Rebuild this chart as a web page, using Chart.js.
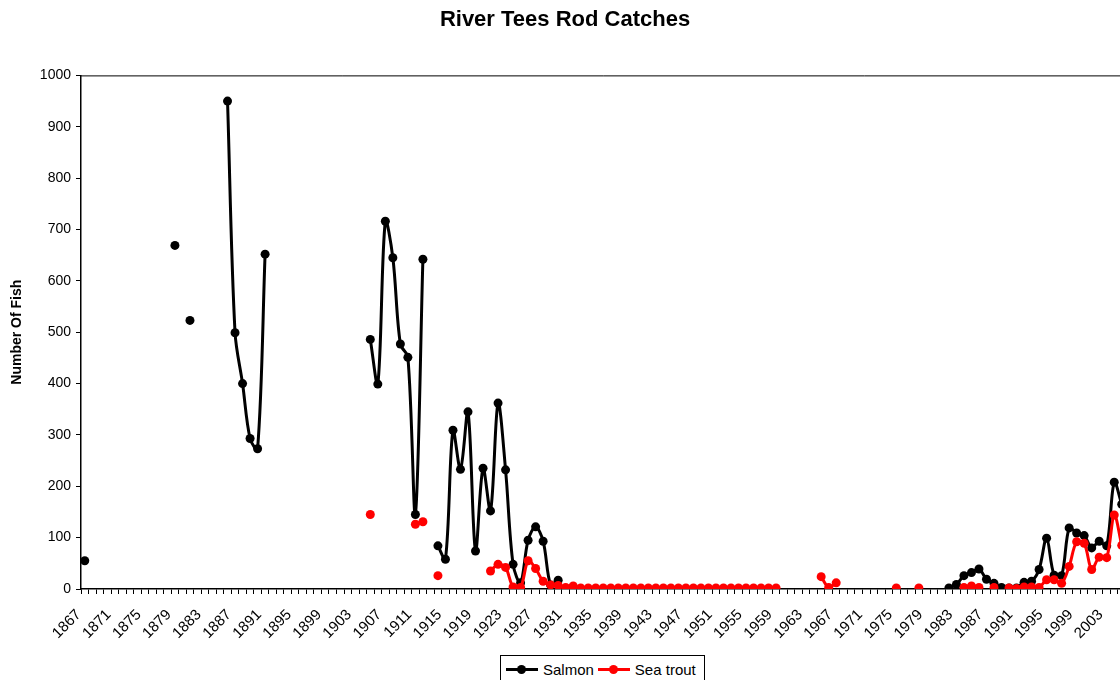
<!DOCTYPE html>
<html>
<head>
<meta charset="utf-8">
<script src="https://cdn.jsdelivr.net/npm/chart.js@4/dist/chart.umd.min.js"></script>
<style>
  html, body { margin: 0; padding: 0; background: #fff; overflow: hidden; }
  #wrap { position: relative; width: 1130px; height: 680px; }
  #legend {
    position: absolute; left: 500px; top: 655px; width: 205px; height: 30px;
    border: 1px solid #000; background: #fff; box-sizing: border-box;
    font: 15px "Liberation Sans", Arial, sans-serif; color: #000; white-space: nowrap;
    display: flex; align-items: flex-start; padding: 3px 0 0 5px;
  }
  #legend .item { display: inline-flex; align-items: center; margin-right: 4px; height: 20px; white-space: nowrap; }
  #legend .sw { position: relative; display: inline-block; width: 32px; height: 3px; margin-right: 5px; }
  #legend .dot { position: absolute; left: 11px; top: -3px; width: 9px; height: 9px; border-radius: 50%; }
</style>
</head>
<body>
<div id="wrap">
  <canvas id="c" width="1130" height="680"></canvas>
  <div id="legend"></div>
</div>
<script>
const years = [
  1867,1868,1869,1870,1871,1872,1873,1874,1875,1876,1877,1878,1879,1880,1881,1882,1883,1884,1885,1886,
  1887,1888,1889,1890,1891,1892,1893,1894,1895,1896,1897,1898,1899,1900,1901,1902,1903,1904,1905,1906,
  1907,1908,1909,1910,1911,1912,1913,1914,1915,1916,1917,1918,1919,1920,1921,1922,1923,1924,1925,1926,
  1927,1928,1929,1930,1931,1932,1933,1934,1935,1936,1937,1938,1939,1940,1941,1942,1943,1944,1945,1946,
  1947,1948,1949,1950,1951,1952,1953,1954,1955,1956,1957,1958,1959,1960,1961,1962,1963,1964,1965,1966,
  1967,1968,1969,1970,1971,1972,1973,1974,1975,1976,1977,1978,1979,1980,1981,1982,1983,1984,1985,1986,
  1987,1988,1989,1990,1991,1992,1993,1994,1995,1996,1997,1998,1999,2000,2001,2002,2003,2004,2005
];

const salmonYears = [
  1867,1879,1881,1886,1887,1888,1889,1890,1891,
  1905,1906,1907,1908,1909,1910,1911,1912,
  1914,1915,1916,1917,1918,1919,1920,1921,1922,1923,1924,1925,1926,1927,1928,1929,1930,
  1982,1983,1984,1985,1986,1987,1988,1989,1990,1991,1992,1993,1994,1995,1996,1997,1998,1999,2000,2001,2002,2003,2004,2005
];
const salmonValues = [
  55,669,523,950,499,400,293,273,652,
  486,399,716,645,477,451,145,642,
  84,58,309,233,345,74,235,152,362,232,48,12,95,121,93,8,17,
  2,9,26,32,39,19,11,3,2,2,13,15,38,99,27,26,119,109,104,80,93,84,208,165
];

const troutYears = [
  1905,1911,1912,1914,
  1921,1922,1923,1924,1925,1926,1927,1928,1929,1930,1931,1932,1933,1934,1935,1936,1937,1938,1939,1940,
  1941,1942,1943,1944,1945,1946,1947,1948,1949,1950,1951,1952,1953,1954,1955,1956,1957,1958,1959,
  1965,1966,1967,1975,1978,
  1984,1985,1986,1988,
  1990,1991,1992,1993,1994,1995,1996,1997,1998,1999,2000,2001,2002,2003,2004,2005
];
const troutValues = [
  145,126,131,26,
  35,48,42,4,3,55,40,15,8,7,3,6,2,2,2,2,2,2,2,2,
  2,2,2,2,2,2,2,2,2,2,2,2,2,2,2,2,2,2,2,
  24,3,12,2,2,
  3,6,3,3,
  2,1,4,4,3,18,18,11,44,92,89,38,62,61,144,85
];

const seriesNames = ['Salmon', 'Sea trout'];
const seriesColors = ['#000000', '#ff0000'];
const yTicks = [0,100,200,300,400,500,600,700,800,900,1000];

function toSeries(ys, vs) {
  return years.map(y => { const i = ys.indexOf(y); return i >= 0 ? vs[i] : null; });
}

const FONT = '"Liberation Sans", Arial, sans-serif';

const borderPlugin = {
  id: 'plotBorder',
  afterDraw(chart) {
    const a = chart.chartArea, ctx = chart.ctx;
    ctx.save();
    ctx.strokeStyle = '#000';
    ctx.lineWidth = 1;
    ctx.beginPath();
    ctx.moveTo(a.left, a.top + 0.5);
    ctx.lineTo(a.right, a.top + 0.5);
    ctx.lineTo(a.right, a.bottom);
    ctx.stroke();
    ctx.restore();
  }
};

const mk = (i, ys, vs, order) => ({
  label: seriesNames[i],
  data: toSeries(ys, vs),
  borderColor: seriesColors[i],
  backgroundColor: seriesColors[i],
  pointBackgroundColor: seriesColors[i],
  pointBorderColor: seriesColors[i],
  borderWidth: 3,
  pointRadius: 4.5,
  pointBorderWidth: 0,
  tension: 0.33,
  spanGaps: false,
  order: order
});

const chart = new Chart(document.getElementById('c'), {
  type: 'line',
  data: {
    labels: years.map(String),
    datasets: [ mk(0, salmonYears, salmonValues, 2), mk(1, troutYears, troutValues, 1) ]
  },
  plugins: [borderPlugin],
  options: {
    responsive: false,
    animation: false,
    layout: { padding: { left: 0, right: 0, top: 0, bottom: 0 } },
    plugins: {
      legend: { display: false },
      tooltip: { enabled: false },
      title: {
        display: true,
        text: 'River Tees Rod Catches',
        color: '#000',
        font: { family: FONT, size: 22, weight: 'bold' },
        padding: { top: 7, bottom: 42 }
      }
    },
    scales: {
      x: {
        type: 'category',
        offset: true,
        grid: { offset: true, drawOnChartArea: false, drawTicks: true, tickLength: 5, color: '#000', lineWidth: 1 },
        border: { color: '#000', width: 1.5 },
        ticks: {
          autoSkip: false, maxRotation: 45, minRotation: 45, padding: 12, labelOffset: -6,
          color: '#000', font: { family: FONT, size: 15 },
          callback: function(v, i) { return i % 4 === 0 ? this.getLabelForValue(v) : ''; }
        },
        afterFit: s => { s.height = 91; s.paddingRight = 0; }
      },
      y: {
        min: 0, max: 1000,
        afterBuildTicks: s => { s.ticks = yTicks.map(v => ({ value: v })); },
        grid: { drawOnChartArea: false, drawTicks: true, tickLength: 5, color: '#000', lineWidth: 1 },
        border: { color: '#000', width: 1.5 },
        ticks: { color: '#000', font: { family: FONT, size: 14 }, padding: 5, callback: v => String(v) },
        title: {
          display: true, text: 'Number Of Fish', color: '#000',
          font: { family: FONT, size: 14, weight: 'bold' },
          padding: { top: 9, bottom: 0 }
        },
        afterFit: s => { s.width = 81; }
      }
    }
  }
});

const lg = document.getElementById('legend');
chart.data.datasets.forEach(ds => {
  const item = document.createElement('span');
  item.className = 'item';
  const sw = document.createElement('span');
  sw.className = 'sw';
  sw.style.background = ds.borderColor;
  const dot = document.createElement('span');
  dot.className = 'dot';
  dot.style.background = ds.borderColor;
  sw.appendChild(dot);
  item.appendChild(sw);
  item.appendChild(document.createTextNode(ds.label));
  lg.appendChild(item);
});
</script>
</body>
</html>
